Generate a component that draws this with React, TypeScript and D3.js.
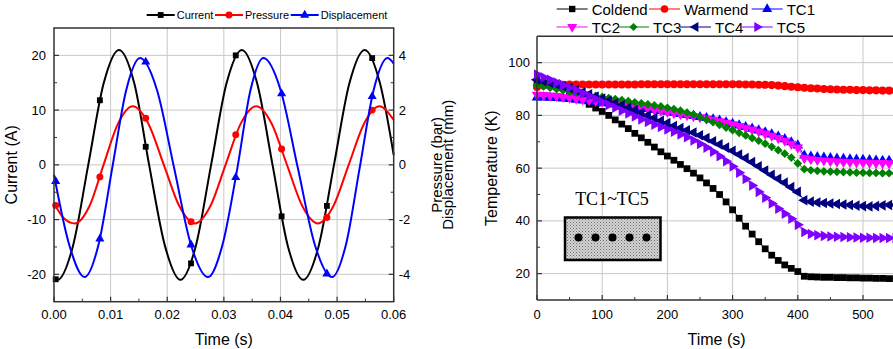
import React from 'react'
import * as d3 from 'd3'

type Pt = [number, number]

// ---------- left panel: current / pressure / displacement vs time ----------
// current (A), key points
const currentPts: Pt[] = [
  [0, -20.7], [0.00063, -21], [0.00334, -14.85], [0.00605, 0], [0.00876, 14.85],
  [0.01148, 21], [0.01419, 14.85], [0.0168, 0], [0.01961, -14.85], [0.02233, -21],
  [0.02504, -14.85], [0.02775, 0], [0.03046, 14.85], [0.03318, 21], [0.03589, 14.85],
  [0.0386, 0], [0.04131, -14.85], [0.04403, -21], [0.04674, -14.85], [0.04945, 0],
  [0.05216, 14.85], [0.05488, 21], [0.05759, 14.85], [0.06, 1.8]
]
// pressure, in left-axis units (5 A-units = 1 bar)
const pressurePts: Pt[] = [
  [0, -7.0], [0.0018, -9.8], [0.0037, -10.7], [0.00625, -7.57], [0.00875, 0],
  [0.01133, 7.57], [0.0139, 10.7], [0.01665, 7.57], [0.0194, 0], [0.02215, -7.57],
  [0.0249, -10.7], [0.0276, -7.57], [0.0303, 0], [0.033, 7.57], [0.0357, 10.7],
  [0.03843, 7.57], [0.04115, 0], [0.04388, -7.57], [0.0466, -10.7], [0.04933, -7.57],
  [0.05205, 0], [0.05478, 7.57], [0.0575, 10.7], [0.06, 8.2]
]
// displacement, in left-axis units (5 A-units = 1 mm)
const dispPts: Pt[] = [
  [0, -1.8], [0.0027, -14.64], [0.0054, -20.5], [0.00785, -14.64], [0.0103, -0.5],
  [0.01275, 13.64], [0.0152, 19.5], [0.0182, 13.64], [0.0212, -0.5], [0.0242, -14.64],
  [0.0272, -20.5], [0.02975, -14.64], [0.0324, -0.5], [0.0347, 13.64], [0.037, 19.5],
  [0.04003, 13.64], [0.04305, -0.5], [0.04608, -14.64], [0.0491, -20.5], [0.05155, -14.64],
  [0.054, -0.5], [0.05645, 13.64], [0.0589, 19.5], [0.06, 18.5]
]
const markTimes = [0.0003, 0.0081, 0.0162, 0.0242, 0.0321, 0.0402, 0.0482, 0.0562]
const currentMarks = [-20.9, 11.8, 3.3, -18.0, 20.0, -9.4, -7.5, 19.5]
const pressureMarks = [-7.4, -2.2, 8.5, -10.4, 5.5, 2.9, -9.6, 10.0]
const dispMarks = [-3.0, -13.5, 18.8, -14.6, -2.3, 13.0, -19.9, 12.5]

const timeTicks = [0, 0.01, 0.02, 0.03, 0.04, 0.05, 0.06]
const timeMinor = [0.005, 0.015, 0.025, 0.035, 0.045, 0.055]
const currentTicks = [-20, -10, 0, 10, 20]
const currentMinor = [-15, -5, 5, 15]
const barTicks = [-4, -2, 0, 2, 4]
const barMinor = [-3, -1, 1, 3]

// ---------- right panel: temperatures vs time ----------
const tempTime = [
  0, 10, 20, 30, 40, 50, 60, 70, 80, 90, 100, 110, 120, 130, 140, 150, 160, 170, 180, 190,
  200, 210, 220, 230, 240, 250, 260, 270, 280, 290, 300, 310, 320, 330, 340, 350, 360, 370,
  380, 390, 400, 410, 420, 430, 440, 450, 460, 470, 480, 490, 500, 510, 520, 530, 540, 550
]
const coldend = [
  92.5, 92.2, 91.8, 91.2, 90.3, 89.2,
  87.8, 86.0, 84.2, 82.8, 81.5,
  80.0, 78.3, 76.7, 75.0, 73.2,
  71.5, 69.8, 68.0, 66.2, 64.6,
  63.0, 61.4, 59.8, 58.1, 56.3,
  54.4, 52.3, 50.0, 47.2, 44.2,
  41.0, 38.0, 35.0, 32.1, 29.4,
  27.0, 25.0, 23.3, 22.0, 20.8,
  19.0, 18.8, 18.7, 18.6, 18.6,
  18.5, 18.5, 18.4, 18.4, 18.3,
  18.3, 18.2, 18.2, 18.1, 18.1
]
const warmend = [
  90.8, 91.3, 91.5, 91.6, 91.6, 91.7,
  91.7, 91.7, 91.7, 91.7, 91.7,
  91.7, 91.7, 91.7, 91.7, 91.7,
  91.8, 91.8, 91.8, 91.8, 91.8,
  91.8, 91.8, 91.8, 91.8, 91.8,
  91.8, 91.8, 91.8, 91.8, 91.8,
  91.8, 91.7, 91.7, 91.6, 91.6,
  91.5, 91.3, 91.1, 90.9, 90.7,
  90.5, 90.3, 90.2, 90.0, 89.9,
  89.8, 89.7, 89.7, 89.6, 89.6,
  89.5, 89.5, 89.4, 89.4, 89.4
]
const tc1 = [
  86.8, 86.8, 86.7, 86.6, 86.4, 86.2,
  86.0, 85.7, 85.4, 85.1, 84.8,
  84.5, 84.2, 83.9, 83.5, 83.2,
  82.8, 82.5, 82.1, 81.7, 81.4,
  81.0, 80.6, 80.2, 79.8, 79.4,
  79.0, 78.5, 78.0, 77.4, 76.8,
  76.2, 75.6, 75.0, 74.3, 73.6,
  72.8, 72.0, 71.0, 69.8, 68.6,
  64.8, 64.4, 64.2, 64.0, 63.8,
  63.6, 63.5, 63.3, 63.2, 63.1,
  63.0, 62.9, 62.8, 62.8, 62.7
]
const tc2 = [
  87.8, 87.7, 87.5, 87.3, 87.0, 86.7,
  86.4, 86.1, 85.8, 85.5, 85.2,
  84.9, 84.5, 84.1, 83.7, 83.3,
  82.9, 82.5, 82.1, 81.7, 81.3,
  80.9, 80.5, 80.1, 79.7, 79.3,
  78.8, 78.3, 77.8, 77.2, 76.6,
  76.0, 75.3, 74.6, 73.9, 73.1,
  72.3, 71.4, 70.4, 69.2, 67.8,
  63.8, 63.4, 63.1, 62.9, 62.7,
  62.5, 62.4, 62.3, 62.2, 62.1,
  62.0, 61.9, 61.9, 61.8, 61.8
]
const tc3 = [
  91.5, 91.0, 90.5, 90.0, 89.5, 89.0,
  88.6, 88.2, 87.8, 87.4, 87.0,
  86.6, 86.2, 85.8, 85.4, 85.0,
  84.6, 84.2, 83.8, 83.4, 82.9,
  82.4, 81.8, 81.1, 80.3, 79.4,
  78.4, 77.4, 76.4, 75.4, 74.4,
  73.4, 72.4, 71.4, 70.4, 69.3,
  68.1, 66.8, 65.5, 64.0, 61.8,
  59.6, 59.2, 59.0, 58.8, 58.7,
  58.6, 58.5, 58.4, 58.3, 58.3,
  58.2, 58.2, 58.1, 58.1, 58.1
]
const tc4 = [
  93.5, 93.0, 92.4, 91.8, 91.1, 90.4,
  89.6, 88.8, 88.0, 87.2, 86.4,
  85.6, 84.7, 83.8, 82.9, 82.0,
  81.0, 80.0, 79.0, 78.0, 77.1,
  76.0, 75.2, 74.4, 73.5, 72.5,
  71.4, 70.2, 69.0, 67.8, 66.6,
  65.2, 63.8, 62.3, 60.7, 59.1,
  57.5, 56.0, 54.5, 52.8, 51.0,
  47.8, 47.3, 47.0, 46.8, 46.6,
  46.4, 46.2, 46.0, 45.8, 45.6,
  45.5, 45.6, 45.9, 46.0, 46.0
]
const tc5 = [
  95.5, 94.5, 93.5, 92.5, 91.5, 90.5,
  89.5, 88.4, 87.3, 86.2, 85.1,
  84.0, 82.9, 81.8, 80.7, 79.6,
  78.5, 77.5, 76.5, 75.6, 74.7,
  73.8, 72.8, 71.7, 70.5, 69.2,
  67.8, 66.2, 64.5, 62.6, 60.6,
  58.3, 55.9, 53.4, 51.0, 48.8,
  46.6, 44.6, 42.7, 40.8, 38.5,
  35.8, 35.0, 34.6, 34.3, 34.1,
  34.0, 33.9, 33.8, 33.7, 33.6,
  33.6, 33.5, 33.5, 33.5, 33.4
]
const tempXTicks = [0, 100, 200, 300, 400, 500]
const tempXMinor = [50, 150, 250, 350, 450, 550]
const tempYTicks = [20, 40, 60, 80, 100]
const tempYMinor = [30, 50, 70, 90]
const probeDots = [1, 2, 3, 4, 5]

const sans = 'Liberation Sans, Arial, Helvetica, sans-serif'
const axisColor = '#333'
const gridColor = '#c8c8c8'

const shapes: Record<string, {type: d3.SymbolType; rot: number; size: number}> = {
  square: {type: d3.symbolSquare, rot: 0, size: 34},
  circle: {type: d3.symbolCircle, rot: 0, size: 38},
  up: {type: d3.symbolTriangle, rot: 0, size: 36},
  down: {type: d3.symbolTriangle, rot: 180, size: 36},
  left: {type: d3.symbolTriangle, rot: -90, size: 36},
  right: {type: d3.symbolTriangle, rot: 90, size: 36},
  diamond: {type: d3.symbolSquare, rot: 45, size: 28}
}

function Mark({shape, x, y, color, scale = 1}: {shape: string; x: number; y: number; color: string; scale?: number}) {
  const s = shapes[shape]
  const d = d3.symbol().type(s.type).size(s.size * scale)() || ''
  return <path d={d} fill={color} transform={`translate(${x},${y}) rotate(${s.rot})`} />
}

export default function App() {
  // left panel scales
  const lx = d3.scaleLinear().domain([0, 0.06]).range([54, 393.7])
  const ly = d3.scaleLinear().domain([-25, 25]).range([301.7, 28])
  const ly2 = d3.scaleLinear().domain([-5, 5]).range([301.7, 28])
  const curve = d3
    .line<Pt>()
    .x(d => lx(d[0]))
    .y(d => ly(d[1]))
    .curve(d3.curveMonotoneX)

  const leftSeries = [
    {name: 'Current', pts: currentPts, marks: currentMarks, color: '#000000', shape: 'square'},
    {name: 'Pressure', pts: pressurePts, marks: pressureMarks, color: '#ff0000', shape: 'circle'},
    {name: 'Displacement', pts: dispPts, marks: dispMarks, color: '#0000ff', shape: 'up'}
  ]
  const leftLegendX = [146.7, 215, 290.7]

  // right panel scales
  const rx = d3.scaleLinear().domain([0, 550]).range([537, 895.6])
  const ry = d3.scaleLinear().domain([10, 110]).range([300, 36.3])
  const tline = d3
    .line<number>()
    .x((d, i) => rx(tempTime[i]))
    .y(d => ry(d))

  const rightSeries = [
    {name: 'Coldend', values: coldend, color: '#000000', shape: 'square'},
    {name: 'Warmend', values: warmend, color: '#ff0000', shape: 'circle'},
    {name: 'TC1', values: tc1, color: '#0000ff', shape: 'up'},
    {name: 'TC2', values: tc2, color: '#ff00ff', shape: 'down'},
    {name: 'TC3', values: tc3, color: '#008000', shape: 'diamond'},
    {name: 'TC4', values: tc4, color: '#000080', shape: 'left'},
    {name: 'TC5', values: tc5, color: '#8000ff', shape: 'right'}
  ]
  const rightLegend = [
    {i: 0, x: 556.7, y: 9}, {i: 1, x: 649, y: 9}, {i: 2, x: 751.7, y: 9},
    {i: 3, x: 556.7, y: 27}, {i: 4, x: 618, y: 27}, {i: 5, x: 680, y: 27}, {i: 6, x: 741.7, y: 27}
  ]

  const [l0, l1] = lx.range()
  const [lb, lt] = ly.range()
  const [r0] = rx.range()
  const [rb, rt] = ry.range()

  return (
    <svg
      width={893}
      height={349}
      style={{position: 'absolute', left: 0, top: 0, background: '#fff'}}
      fontFamily={sans}
    >
      <defs>
        <pattern id="stipple" width={3} height={3} patternUnits="userSpaceOnUse">
          <rect width={3} height={3} fill="#d4d4d4" />
          <rect width={1} height={1} fill="#6a6a6a" />
          <rect x={1.5} y={1.5} width={1} height={1} fill="#8a8a8a" />
        </pattern>
      </defs>

      {/* ===== left panel ===== */}
      <g>
        {timeTicks.slice(1, -1).map(t => (
          <line key={'gx' + t} x1={lx(t)} x2={lx(t)} y1={lb} y2={lt} stroke={gridColor} />
        ))}
        {currentTicks.map(v => (
          <line key={'gy' + v} x1={l0} x2={l1} y1={ly(v)} y2={ly(v)} stroke={gridColor} />
        ))}

        {leftSeries.map(s => (
          <g key={s.name}>
            <path d={curve(s.pts) || ''} fill="none" stroke={s.color} strokeWidth={2} />
            {s.marks.map((v, i) => (
              <Mark key={i} shape={s.shape} x={lx(markTimes[i])} y={ly(v)} color={s.color} />
            ))}
          </g>
        ))}

        <rect x={l0} y={lt} width={l1 - l0} height={lb - lt} fill="none" stroke={axisColor} strokeWidth={1.5} />
        {timeTicks.map(t => (
          <g key={'tx' + t}>
            <line x1={lx(t)} x2={lx(t)} y1={lb} y2={lb - 5} stroke={axisColor} strokeWidth={1.2} />
            <text x={lx(t)} y={319} fontSize={13} textAnchor="middle">{d3.format('.2f')(t)}</text>
          </g>
        ))}
        {timeMinor.map(t => (
          <line key={'mx' + t} x1={lx(t)} x2={lx(t)} y1={lb} y2={lb - 3} stroke={axisColor} />
        ))}
        {currentTicks.map(v => (
          <g key={'ty' + v}>
            <line x1={l0} x2={l0 + 5} y1={ly(v)} y2={ly(v)} stroke={axisColor} strokeWidth={1.2} />
            <text x={l0 - 8} y={ly(v) + 4.5} fontSize={13} textAnchor="end">{v}</text>
          </g>
        ))}
        {currentMinor.map(v => (
          <line key={'my' + v} x1={l0} x2={l0 + 3} y1={ly(v)} y2={ly(v)} stroke={axisColor} />
        ))}
        {barTicks.map(v => (
          <g key={'tb' + v}>
            <line x1={l1} x2={l1 - 5} y1={ly2(v)} y2={ly2(v)} stroke={axisColor} strokeWidth={1.2} />
            <text x={l1 + 5} y={ly2(v) + 4.5} fontSize={13} textAnchor="start">{v}</text>
          </g>
        ))}
        {barMinor.map(v => (
          <line key={'mb' + v} x1={l1} x2={l1 - 3} y1={ly2(v)} y2={ly2(v)} stroke={axisColor} />
        ))}

        <text x={(l0 + l1) / 2} y={345} fontSize={16} textAnchor="middle">Time (s)</text>
        <text transform={`translate(17,${(lb + lt) / 2}) rotate(-90)`} fontSize={16} textAnchor="middle">Current (A)</text>
        <text transform={`translate(442,${(lb + lt) / 2}) rotate(-90)`} fontSize={15} textAnchor="middle">Pressure (bar)</text>
        <text transform={`translate(453,${(lb + lt) / 2}) rotate(-90)`} fontSize={15} textAnchor="middle">Displacement (mm)</text>

        {leftSeries.map((s, i) => (
          <g key={'lg' + s.name}>
            <line x1={leftLegendX[i]} x2={leftLegendX[i] + 28} y1={15} y2={15} stroke={s.color} strokeWidth={2} />
            <Mark shape={s.shape} x={leftLegendX[i] + 14} y={15} color={s.color} />
            <text x={leftLegendX[i] + 30} y={19} fontSize={11}>{s.name}</text>
          </g>
        ))}
      </g>

      {/* ===== right panel ===== */}
      <g>
        {tempXTicks.slice(1).map(t => (
          <line key={'rgx' + t} x1={rx(t)} x2={rx(t)} y1={rb} y2={rt} stroke={gridColor} />
        ))}
        {tempYTicks.map(v => (
          <line key={'rgy' + v} x1={r0} x2={900} y1={ry(v)} y2={ry(v)} stroke={gridColor} />
        ))}

        {/* inset sketch of the probe block */}
        <text x={612} y={205} fontSize={18} textAnchor="middle" fontFamily="Liberation Serif, Times New Roman, serif">
          TC1~TC5
        </text>
        <rect x={565} y={217.5} width={95.5} height={42.5} fill="url(#stipple)" stroke="#000" strokeWidth={2.5} />
        {probeDots.map(k => (
          <circle key={'pd' + k} cx={561.5 + k * 17} cy={237.5} r={4} fill="#000" />
        ))}

        {rightSeries.map(s => (
          <g key={s.name}>
            <path d={tline(s.values) || ''} fill="none" stroke={s.color} strokeWidth={1} />
            {s.values.map((v, i) => (
              <Mark key={i} shape={s.shape} x={rx(tempTime[i])} y={ry(v)} color={s.color} scale={1.35} />
            ))}
          </g>
        ))}

        <line x1={r0} x2={r0} y1={rt} y2={rb} stroke={axisColor} strokeWidth={1.5} />
        <line x1={r0} x2={900} y1={rb} y2={rb} stroke={axisColor} strokeWidth={1.5} />
        <line x1={r0} x2={900} y1={rt} y2={rt} stroke={axisColor} strokeWidth={1.5} />
        {tempXTicks.map(t => (
          <g key={'rtx' + t}>
            <line x1={rx(t)} x2={rx(t)} y1={rb} y2={rb - 5} stroke={axisColor} strokeWidth={1.2} />
            <text x={rx(t)} y={319} fontSize={13} textAnchor="middle">{t}</text>
          </g>
        ))}
        {tempXMinor.map(t => (
          <line key={'rmx' + t} x1={rx(t)} x2={rx(t)} y1={rb} y2={rb - 3} stroke={axisColor} />
        ))}
        {tempYTicks.map(v => (
          <g key={'rty' + v}>
            <line x1={r0} x2={r0 + 5} y1={ry(v)} y2={ry(v)} stroke={axisColor} strokeWidth={1.2} />
            <text x={r0 - 7} y={ry(v) + 4.5} fontSize={13} textAnchor="end">{v}</text>
          </g>
        ))}
        {tempYMinor.map(v => (
          <line key={'rmy' + v} x1={r0} x2={r0 + 3} y1={ry(v)} y2={ry(v)} stroke={axisColor} />
        ))}

        <text x={716.5} y={345} fontSize={16} textAnchor="middle">Time (s)</text>
        <text transform={`translate(497,${(rb + rt) / 2}) rotate(-90)`} fontSize={16} textAnchor="middle">Temperature (K)</text>

        {rightLegend.map(({i, x, y}) => {
          const s = rightSeries[i]
          return (
            <g key={'rl' + s.name}>
              <line x1={x} x2={x + 31} y1={y} y2={y} stroke={s.color} strokeWidth={1} />
              <Mark shape={s.shape} x={x + 15.5} y={y} color={s.color} scale={1.2} />
              <text x={x + 35} y={y + 5.5} fontSize={15}>{s.name}</text>
            </g>
          )
        })}
      </g>
    </svg>
  )
}
